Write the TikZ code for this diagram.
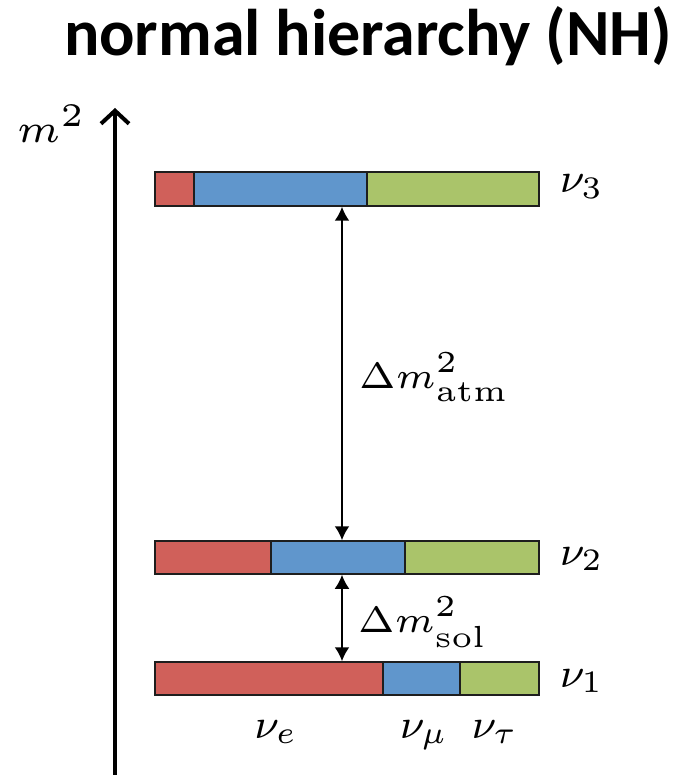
\documentclass[tikz,border=0pt]{standalone}
\usepackage{graphicx}
\usepackage{fontspec}
\newfontfamily\titlefont{Carlito}
\usetikzlibrary{arrows.meta}
\definecolor{nred}{RGB}{208,96,90}
\definecolor{nblue}{RGB}{96,150,204}
\definecolor{ngreen}{RGB}{170,196,106}
\definecolor{edge}{RGB}{30,30,30}
\newcommand{\numath}[1]{\scalebox{5.2}{\fontsize{8}{9}\selectfont$#1$}}
\newcommand{\dmath}[1]{\scalebox{6.1}{\fontsize{6}{7}\selectfont$#1$}}
\tikzset{
  seg/.style={draw=edge, line width=1.5pt, inner sep=0pt, outer sep=0pt, anchor=west},
  lbl/.style={inner sep=0pt},
  dm/.style={line width=2pt, {Latex[length=14pt,width=15pt]}-{Latex[length=14pt,width=15pt]}, shorten <=0.75pt, shorten >=0.75pt},
}
\begin{document}
\begin{tikzpicture}[x=1pt,y=-1pt]
\useasboundingbox (0,0) rectangle (682,775);
% title
\node[inner sep=0pt, anchor=base, font=\titlefont\bfseries\fontsize{66}{72}\selectfont] (title) at (368,56) {normal hierarchy (NH)};
% axis
\coordinate (axbot) at (115,790);
\coordinate (axtop) at (115,108);
\draw[line width=4pt, -{Straight Barb[length=13pt,width=28pt,line width=4pt]}] (axbot) -- (axtop);
\node[lbl, anchor=base west] (m2) at (17,143) {\scalebox{6.6}{\fontsize{6}{7}\selectfont$m^2$}};
% nu3 bar
\node[seg, fill=nred, minimum width=39pt, minimum height=34pt] (b3r) at (155,189) {};
\node[seg, fill=nblue, minimum width=173pt, minimum height=34pt] (b3b) at (194,189) {};
\node[seg, fill=ngreen, minimum width=172pt, minimum height=34pt] (b3g) at (367,189) {};
% nu2 bar
\node[seg, fill=nred, minimum width=116pt, minimum height=33pt] (b2r) at (155,557.5) {};
\node[seg, fill=nblue, minimum width=134pt, minimum height=33pt] (b2b) at (271,557.5) {};
\node[seg, fill=ngreen, minimum width=134pt, minimum height=33pt] (b2g) at (405,557.5) {};
% nu1 bar
\node[seg, fill=nred, minimum width=228pt, minimum height=33pt] (b1r) at (155,678.5) {};
\node[seg, fill=nblue, minimum width=77pt, minimum height=33pt] (b1b) at (383,678.5) {};
\node[seg, fill=ngreen, minimum width=79pt, minimum height=33pt] (b1g) at (460,678.5) {};
% mass labels
\node[lbl, anchor=base west] (n3) at (560,193) {\numath{\nu_3}};
\node[lbl, anchor=base west] (n2) at (560,565) {\numath{\nu_2}};
\node[lbl, anchor=base west] (n1) at (560,687) {\numath{\nu_1}};
% splittings
\coordinate (ax) at (342,0);
\draw[dm] (b3b.south -| ax) -- (b2b.north -| ax);
\draw[dm] (b2b.south -| ax) -- (b1r.north -| ax);
\node[lbl, anchor=base west] (atm) at (359,388) {\dmath{\Delta m^2_{\mathrm{atm}}}};
\node[lbl, anchor=base west] (sol) at (358,632) {\dmath{\Delta m^2_{\mathrm{sol}}}};
% flavour labels
\node[lbl, anchor=base] (ne) at (276,738) {\numath{\nu_e}};
\node[lbl, anchor=base] (nm) at (424,738) {\numath{\nu_\mu}};
\node[lbl, anchor=base] (nt) at (495,738) {\numath{\nu_\tau}};
\end{tikzpicture}
\end{document}
